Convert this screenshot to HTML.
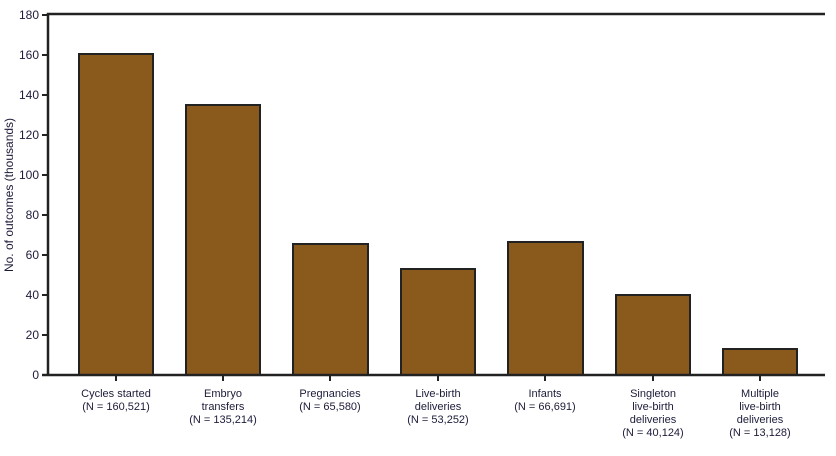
<!DOCTYPE html><html><head><style>body{margin:0;background:#fff}</style></head><body>
<svg width="836" height="451" xmlns="http://www.w3.org/2000/svg" font-family="Liberation Sans, sans-serif" fill="#1c1c3a">
<g fill="#8a5a1c" stroke="#222" stroke-width="2">
<rect x="79" y="54" width="74" height="321"/>
<rect x="186" y="105" width="74" height="270"/>
<rect x="293" y="244" width="75" height="131"/>
<rect x="401" y="269" width="74" height="106"/>
<rect x="508" y="242" width="75" height="133"/>
<rect x="616" y="295" width="74" height="80"/>
<rect x="723" y="349" width="74" height="26"/>
</g>
<path d="M48,375V14H825M42,375H825" stroke="#222" stroke-width="2.5" fill="none"/>
<g stroke="#222" stroke-width="2">
<path d="M42,15h6M42,55h6M42,95h6M42,135h6M42,175h6M42,215h6M42,255h6M42,295h6M42,335h6"/>
<path d="M116,375v6M223,375v6M330,375v6M438,375v6M545,375v6M653,375v6M760,375v6"/>
</g>
<g font-size="12" text-anchor="end">
<text x="39" y="19">180</text><text x="39" y="59">160</text><text x="39" y="99">140</text><text x="39" y="139">120</text><text x="39" y="179">100</text><text x="39" y="219">80</text><text x="39" y="259">60</text><text x="39" y="299">40</text><text x="39" y="339">20</text><text x="39" y="379">0</text>
</g>
<text transform="translate(13,195) rotate(-90)" font-size="12" text-anchor="middle">No. of outcomes  (thousands)</text>
<g font-size="11" text-anchor="middle">
<text x="116" y="397">Cycles started</text><text x="116" y="410">(N = 160,521)</text>
<text x="223" y="397">Embryo</text><text x="223" y="410">transfers</text><text x="223" y="423">(N = 135,214)</text>
<text x="330" y="397">Pregnancies</text><text x="330" y="410">(N = 65,580)</text>
<text x="438" y="397">Live-birth</text><text x="438" y="410">deliveries</text><text x="438" y="423">(N = 53,252)</text>
<text x="545" y="397">Infants</text><text x="545" y="410">(N = 66,691)</text>
<text x="653" y="397">Singleton</text><text x="653" y="410">live-birth</text><text x="653" y="423">deliveries</text><text x="653" y="436">(N = 40,124)</text>
<text x="760" y="397">Multiple</text><text x="760" y="410">live-birth</text><text x="760" y="423">deliveries</text><text x="760" y="436">(N = 13,128)</text>
</g>
</svg></body></html>
